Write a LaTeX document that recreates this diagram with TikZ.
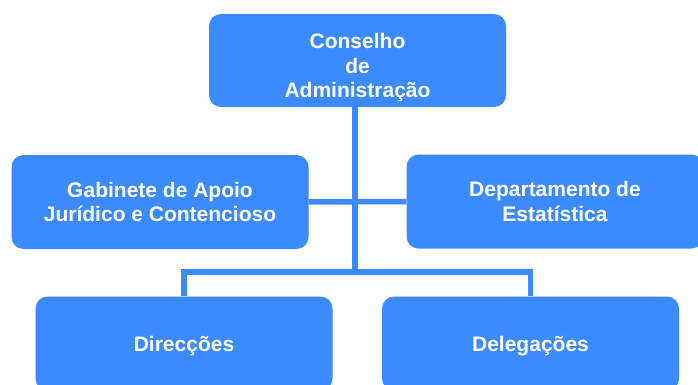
\documentclass[tikz,border=0pt]{standalone}
\usepackage{fontspec}
\usepackage{tikz}
\usepackage{xcolor}
\setmainfont{Liberation Sans}
\definecolor{orgblue}{RGB}{59,138,255}

\tikzset{
  orgbox/.style={rectangle, rounded corners=12pt, fill=orgblue, draw=none,
    text=white, align=center, inner sep=0pt,
    minimum width=297pt, minimum height=94pt,
    font=\bfseries\fontsize{21}{24.5}\selectfont},
  orgline/.style={draw=orgblue, line width=5.5pt}
}

\begin{document}
\begin{tikzpicture}[x=1pt,y=-1pt]
\useasboundingbox[fill=white] (0,0) rectangle (698,385);

\node[orgbox, minimum height=93pt] (conselho) at (357.5,60.5) {\rule{0pt}{30pt}Conselho\\de\\Administração};
\node[orgbox] (gabinete) at (160,202) {Gabinete de Apoio\\Jurídico e Contencioso};
\node[orgbox] (estatistica) at (555,201.5) {Departamento de\\Estatística};
\node[orgbox] (direccoes) at (184,343.5) {\rule{0pt}{21pt}Direcções};
\node[orgbox] (delegacoes) at (530.5,343.5) {\rule{0pt}{21pt}Delegações};

\coordinate (split) at (355,272);

\draw[orgline] (conselho.south -| split) -- (split);
\draw[orgline] (gabinete.east) -- (estatistica.west);
\draw[orgline] (direccoes.north) |- (split) -| (delegacoes.north);
\end{tikzpicture}
\end{document}
